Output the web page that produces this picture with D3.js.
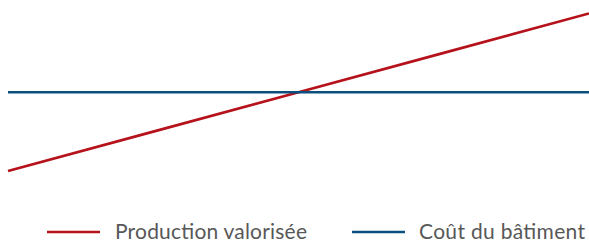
<!DOCTYPE html>
<html><head><meta charset="utf-8">
<script src="https://cdn.jsdelivr.net/npm/d3@7"></script>
<style>html,body{margin:0;padding:0;background:#fff;}svg{display:block;}</style>
</head><body>
<script>
const periods = [0, 5, 10, 15, 20];
const production = [20, 35, 50, 65, 80];
const cost = [50, 50, 50, 50, 50];
const seriesNames = ["Production valorisée", "Coût du bâtiment"];
const colors = ["#b5121b", "#0b4f7e"];

const W = 589, H = 243;
const svg = d3.select("body").append("svg").attr("width", W).attr("height", H);
const x = d3.scaleLinear().domain([0, 20]).range([8, 589]);
const y = d3.scaleLinear().domain([20, 80]).range([171, 13.5]);
const line = d3.line().x((d, i) => x(periods[i])).y(d => y(d));

[production, cost].forEach((s, k) => {
  svg.append("path").datum(s).attr("d", line)
    .attr("fill", "none").attr("stroke", colors[k]).attr("stroke-width", 2.6);
});

const legendX = [47, 352], legendText = [115, 419];
seriesNames.forEach((n, k) => {
  svg.append("line").attr("x1", legendX[k]).attr("x2", legendX[k] + 53)
    .attr("y1", 232).attr("y2", 232).attr("stroke", colors[k]).attr("stroke-width", 2.6);
  svg.append("text").attr("x", legendText[k]).attr("y", 239)
    .attr("font-family", "Lato").attr("font-weight", 400).attr("font-size", 21).attr("fill", "#585858")
    .attr("textLength", k === 0 ? 192 : 166).attr("lengthAdjust", "spacing")
    .text(n);
});
</script>
</body></html>
